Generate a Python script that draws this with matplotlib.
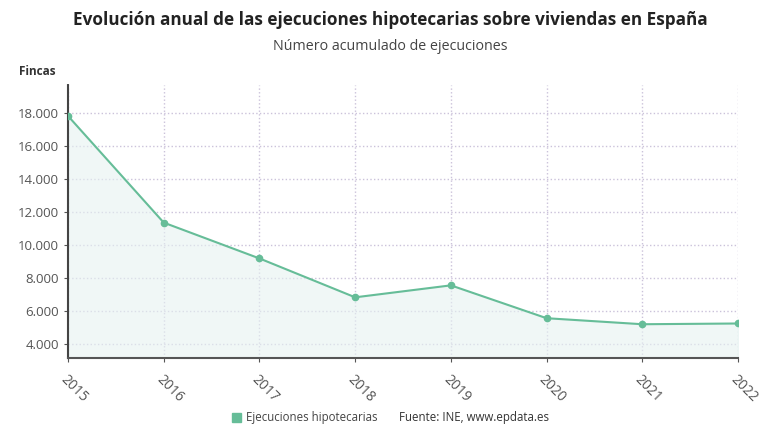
import numpy as np
import matplotlib.pyplot as plt
from matplotlib.ticker import FuncFormatter

# Datos
years = ['2015', '2016', '2017', '2018', '2019', '2020', '2021', '2022']
ejecuciones = [17820, 11360, 9190, 6835, 7560, 5570, 5205, 5250]

plt.rcParams['font.family'] = ['Open Sans', 'DejaVu Sans']

color = '#66bd98'
x = np.arange(len(years))

fig = plt.figure(figsize=(7.8, 4.4), dpi=100)
ax = fig.add_axes([0.0872, 0.186, 0.859, 0.621])

ax.fill_between(x, ejecuciones, 3150, color='#e6f2f1', alpha=0.6, zorder=1)
ax.plot(x, ejecuciones, color=color, lw=1.5, marker='o', ms=4.5, zorder=3)

ax.set_xlim(0, len(years) - 1)
ax.set_ylim(3150, 19700)
ax.set_yticks(range(4000, 18001, 2000))
ax.yaxis.set_major_formatter(FuncFormatter(lambda v, p: f'{int(v):,}'.replace(',', '.')))
ax.set_xticks(x)
ax.set_xticklabels(years, rotation=-45, ha='left', va='top', rotation_mode='anchor')

ax.grid(True, color='#cbc2da', linestyle=':', lw=1)
ax.set_axisbelow(True)
for s in ['top', 'right']:
    ax.spines[s].set_visible(False)
ax.spines['left'].set_color('#444444')
ax.spines['left'].set_linestyle((0, (2, 1)))
ax.spines['left'].set_linewidth(1.5)
ax.spines['bottom'].set_color('#555555')
ax.spines['bottom'].set_linewidth(1.5)
ax.tick_params(colors='#555555', labelsize=9.5, length=3)
ax.tick_params(axis='x', pad=7, labelsize=10)

fig.text(0.5, 0.955, 'Evolución anual de las ejecuciones hipotecarias sobre viviendas en España',
         ha='center', va='center', fontsize=12.3, fontweight='bold', color='#222222')
fig.text(0.5, 0.895, 'Número acumulado de ejecuciones', ha='center', va='center',
         fontsize=10.3, color='#444444')
fig.text(0.025, 0.838, 'Fincas', ha='left', va='center', fontsize=8.5,
         fontweight='bold', color='#333333')

# Leyenda
fig.patches.append(plt.Rectangle((0.298, 0.042), 0.011, 0.02, transform=fig.transFigure,
                                 color=color, figure=fig))
fig.text(0.316, 0.051, 'Ejecuciones hipotecarias', ha='left', va='center',
         fontsize=8.3, color='#444444')
fig.text(0.512, 0.051, 'Fuente: INE, www.epdata.es', ha='left', va='center',
         fontsize=8.3, color='#333333')

fig.savefig('out.png', dpi=100)
